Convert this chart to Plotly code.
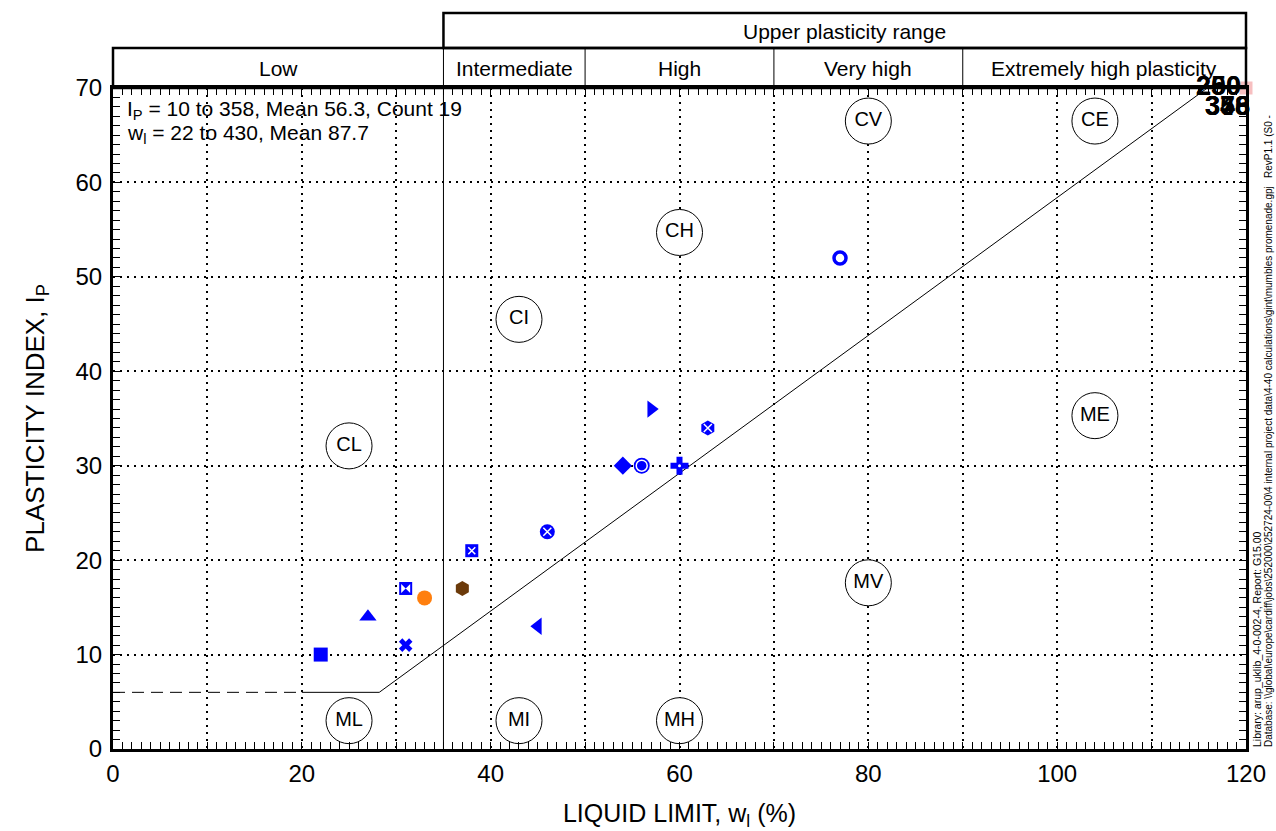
import plotly.graph_objects as go

# ---------------- data ----------------
liquid_limit = [22, 27, 31, 31, 33, 37, 38, 46, 45, 54, 56, 57, 60, 63, 77]
plasticity_index = [10, 14, 11, 17, 16, 17, 21, 23, 13, 30, 30, 36, 30, 34, 52]

band_edges = [0, 35, 50, 70, 90, 120]
band_names = ["Low", "Intermediate", "High", "Very high", "Extremely high plasticity"]
upper_range_label = "Upper plasticity range"

zone_names = ["CL", "ML", "CI", "MI", "CH", "MH", "CV", "MV", "CE", "ME"]
zone_x = [25, 25, 43, 43, 60, 60, 80, 80, 104, 104]
zone_y = [32.1, 3, 45.5, 3, 54.7, 3, 66.5, 17.6, 66.5, 35.3]

aline_x = [20, 28.2, 115.9]
aline_y = [6, 6, 70]
aline_dash_x = [0, 20]
aline_dash_y = [6, 6]

x_tickvals = [0, 10, 20, 30, 40, 50, 60, 70, 80, 90, 100, 110, 120]
x_ticktext = ["0", "", "20", "", "40", "", "60", "", "80", "", "100", "", "120"]
y_tickvals = [0, 10, 20, 30, 40, 50, 60, 70]
y_ticktext = ["0", "10", "20", "30", "40", "50", "60", "70"]

offchart_top = ["200", "250"]
offchart_bottom = ["346", "378", "358"]

stats_line1 = "I<sub>P</sub> = 10 to 358, Mean 56.3, Count 19"
stats_line2 = "w<sub>l</sub> = 22 to 430, Mean 87.7"
footer1 = "Library: arup_uklib_4-0-002-4, Report: G15.00"
footer2 = ("Database: \\\\global\\europe\\cardiff\\jobs\\252000\\252724-00\\4 internal project data"
           "\\4-40 calculations\\gint\\mumbles promenade.gpj   RevP1.1 (S0 -")

# ---------------- styles ----------------
BLUE = "#0000FF"
FONT = "Liberation Sans, Arial, sans-serif"
# (symbol, colour, size, overlay symbol, overlay size)
styles = [
    ("square", BLUE, 14, None, 0),
    ("triangle-up", BLUE, 15, None, 0),
    ("x", BLUE, 12, None, 0),
    ("square", BLUE, 13, "bowtie", 9),
    ("circle", "#FF7F0E", 15, None, 0),
    ("hexagon", "#6B3A0A", 15, None, 0),
    ("square", BLUE, 13, "x-thin-open", 7),
    ("circle", BLUE, 15, "x-thin-open", 8),
    ("triangle-left", BLUE, 15, None, 0),
    ("diamond", BLUE, 14, None, 0),
    ("circle", BLUE, 16, "circle-open", 11),
    ("triangle-right", BLUE, 15, None, 0),
    ("cross", BLUE, 15, "circle", 3),
    ("hexagon", BLUE, 15, "x-thin-open", 8),
    ("circle-open", BLUE, 12, None, 0),
]

fig = go.Figure()

# A-line
fig.add_trace(go.Scatter(x=aline_dash_x, y=aline_dash_y, mode="lines",
                         line=dict(color="black", width=1, dash="12px,7px"), hoverinfo="skip"))
fig.add_trace(go.Scatter(x=aline_x, y=aline_y, mode="lines",
                         line=dict(color="black", width=1), hoverinfo="skip"))

# zone circles
fig.add_trace(go.Scatter(x=zone_x, y=zone_y, mode="markers+text", text=zone_names,
                         textposition="middle center",
                         textfont=dict(family=FONT, size=20, color="black"),
                         marker=dict(symbol="circle", size=46, color="white",
                                     line=dict(color="black", width=1)),
                         hoverinfo="skip"))

# data points
for i, (sym, col, sz, ov, ovs) in enumerate(styles):
    open_sym = sym.endswith("open")
    fig.add_trace(go.Scatter(x=[liquid_limit[i]], y=[plasticity_index[i]], mode="markers",
                             marker=dict(symbol=sym, size=sz, color=col,
                                         line=dict(color=col, width=3.5 if open_sym else 0))))
    if ov:
        ov_open = ov.endswith("open")
        fig.add_trace(go.Scatter(x=[liquid_limit[i]], y=[plasticity_index[i]], mode="markers",
                                 marker=dict(symbol=ov, size=ovs, color="white",
                                             line=dict(color="white", width=1.5 if ov_open else 0))))

# off-chart marker
fig.add_trace(go.Scatter(x=[band_edges[-1]], y=[y_tickvals[-1]], mode="markers", cliponaxis=False,
                         marker=dict(symbol="square", size=13, color="#F7BFC0"), hoverinfo="skip"))

axis_common = dict(showline=True, linewidth=3, linecolor="black", mirror="allticks",
                   ticks="inside", ticklen=7, tickwidth=1, tickcolor="black",
                   showgrid=True, gridcolor="black", gridwidth=1.5, griddash="1.5px,5.5px",
                   zeroline=False, automargin=False,
                   tickfont=dict(family=FONT, size=24, color="black"),
                   minor=dict(dtick=1, ticks="inside", ticklen=7, tickwidth=1, tickcolor="black",
                              showgrid=False))

fig.update_xaxes(range=[band_edges[0], band_edges[-1]], tickmode="array", tickvals=x_tickvals,
                 ticktext=x_ticktext, ticklabelstandoff=1,
                 title=dict(text="LIQUID LIMIT, w<sub>l</sub> (%)", standoff=31,
                            font=dict(family=FONT, size=25, color="black")),
                 **axis_common)
fig.update_yaxes(range=[0, 70], tickmode="array", tickvals=y_tickvals, ticktext=y_ticktext,
                 ticklabelstandoff=3,
                 title=dict(text="PLASTICITY INDEX, I<sub>P</sub>", standoff=24,
                            font=dict(family=FONT, size=26, color="black")),
                 **axis_common)

# plot geometry (pixels) for paper-referenced header
W, H = 1276, 831
ML, MR, MT, MB = 113, 30, 88, 82
plot_h = H - MT - MB


def py(p):
    return (H - MB - p) / plot_h


xmax = band_edges[-1]
shapes = []
# solid vertical at intermediate boundary
shapes.append(dict(type="line", xref="x", yref="y", x0=band_edges[1], x1=band_edges[1], y0=0, y1=70,
                   line=dict(color="black", width=1)))
# header row 2 separators
for e in band_edges[1:-1]:
    shapes.append(dict(type="line", xref="paper", yref="paper", x0=e / xmax, x1=e / xmax,
                       y0=py(48), y1=1, line=dict(color="black", width=1)))
# header row 2 outline
shapes.append(dict(type="rect", xref="paper", yref="paper", x0=0, x1=1, y0=1, y1=py(48),
                   line=dict(color="black", width=2.5)))
# header row 1 outline
shapes.append(dict(type="rect", xref="paper", yref="paper", x0=band_edges[1] / xmax, x1=1,
                   y0=py(48), y1=py(13), line=dict(color="black", width=2.5)))

annotations = []
for i, name in enumerate(band_names):
    annotations.append(dict(x=(band_edges[i] + band_edges[i + 1]) / 2, y=py(69), xref="x", yref="paper",
                            text=name, showarrow=False, yanchor="middle",
                            font=dict(family=FONT, size=21, color="black")))
annotations.append(dict(x=(band_edges[1] + band_edges[-1]) / 2, y=py(31), xref="x", yref="paper",
                        text=upper_range_label, showarrow=False, yanchor="middle",
                        font=dict(family=FONT, size=21, color="black")))
annotations.append(dict(x=(125 - ML) / (W - ML - MR), y=py(110), xref="paper", yref="paper",
                        text=stats_line1, showarrow=False, xanchor="left", yanchor="middle",
                        font=dict(family=FONT, size=21, color="black")))
annotations.append(dict(x=(125 - ML) / (W - ML - MR), y=py(134), xref="paper", yref="paper",
                        text=stats_line2, showarrow=False, xanchor="left", yanchor="middle",
                        font=dict(family=FONT, size=21, color="black")))
for t in offchart_top:
    annotations.append(dict(x=117.1, y=py(86), xref="x", yref="paper", text="<b>" + t + "</b>",
                            showarrow=False, yanchor="middle",
                            font=dict(family=FONT, size=27, color="black")))
for t in offchart_bottom:
    annotations.append(dict(x=118.0, y=py(106), xref="x", yref="paper", text="<b>" + t + "</b>",
                            showarrow=False, yanchor="middle",
                            font=dict(family=FONT, size=27, color="black")))
annotations.append(dict(x=(1257 - ML) / (W - ML - MR), y=0, xref="paper", yref="paper", text=footer1,
                        showarrow=False, textangle=-90, xanchor="center", yanchor="bottom",
                        font=dict(family=FONT, size=10.5, color="black")))
annotations.append(dict(x=(1268 - ML) / (W - ML - MR), y=0, xref="paper", yref="paper", text=footer2,
                        showarrow=False, textangle=-90, xanchor="center", yanchor="bottom",
                        font=dict(family=FONT, size=10, color="black")))

fig.update_layout(width=W, height=H, autosize=False,
                  margin=dict(l=ML, r=MR, t=MT, b=MB, autoexpand=False),
                  plot_bgcolor="white", paper_bgcolor="white", showlegend=False,
                  font=dict(family=FONT, color="black"),
                  shapes=shapes, annotations=annotations)

fig.write_html("out.html")
